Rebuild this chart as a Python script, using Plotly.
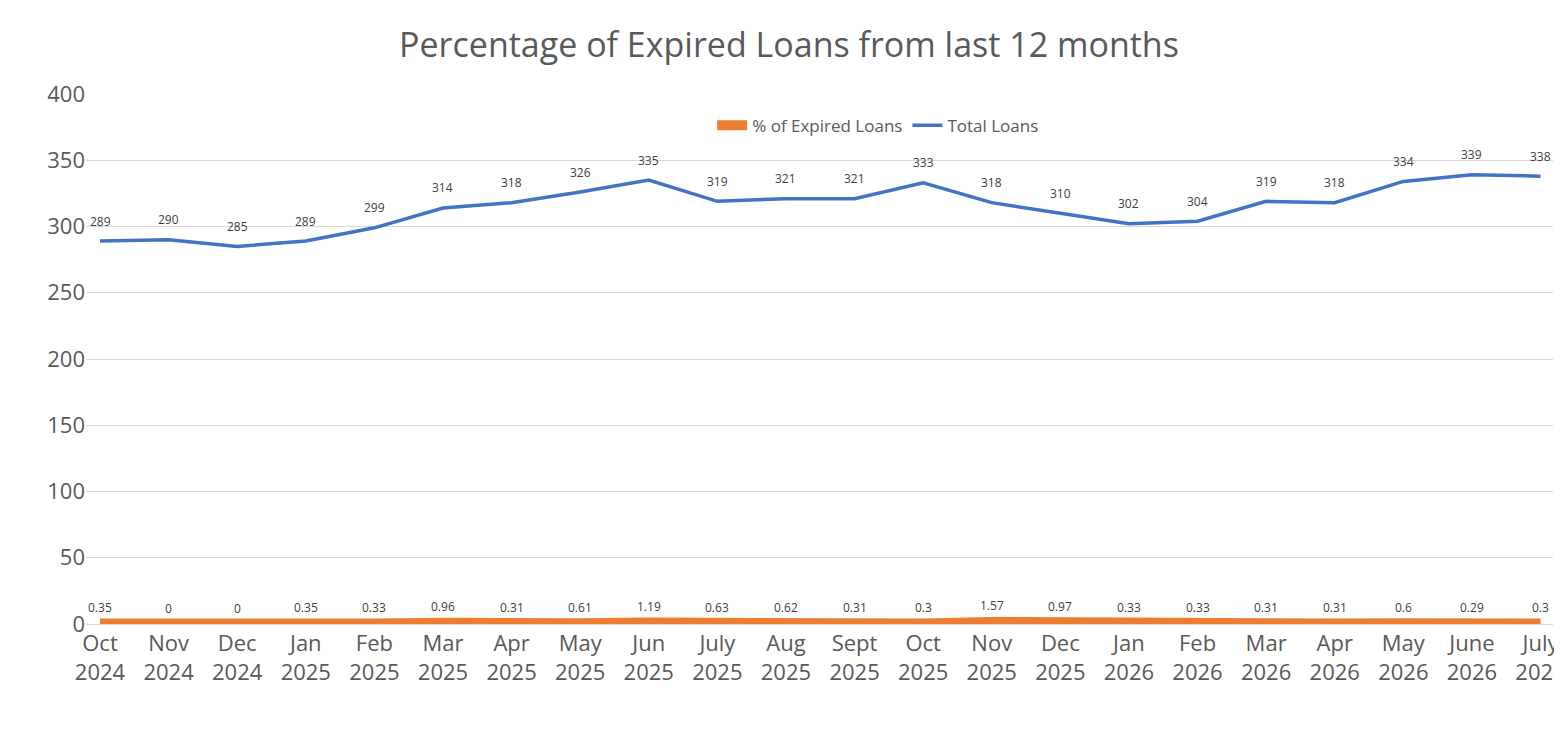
import plotly.graph_objects as go

months = ["Oct<br>2024", "Nov<br>2024", "Dec<br>2024", "Jan<br>2025", "Feb<br>2025", "Mar<br>2025",
          "Apr<br>2025", "May<br>2025", "Jun<br>2025", "July<br>2025", "Aug<br>2025", "Sept<br>2025",
          "Oct<br>2025", "Nov<br>2025", "Dec<br>2025", "Jan<br>2026", "Feb<br>2026", "Mar<br>2026",
          "Apr<br>2026", "May<br>2026", "June<br>2026", "July<br>2026"]
expired_pct = [0.35, 0, 0, 0.35, 0.33, 0.96, 0.31, 0.61, 1.19, 0.63, 0.62, 0.31,
               0.3, 1.57, 0.97, 0.33, 0.33, 0.31, 0.31, 0.6, 0.29, 0.3]
total_loans = [289, 290, 285, 289, 299, 314, 318, 326, 335, 319, 321, 321,
               333, 318, 310, 302, 304, 319, 318, 334, 339, 338]

fig = go.Figure()

fig.add_trace(go.Scatter(x=months, y=expired_pct, name="% of Expired Loans",
                         mode="lines", line=dict(color="#ED7D31", width=10)))
fig.add_trace(go.Scatter(x=months, y=total_loans, name="Total Loans",
                         mode="lines", line=dict(color="#4472C4", width=3.5)))

# data labels, lifted a bit above the points
labels = []
for xs, ys, shift in [(months, expired_pct, 16), (months, total_loans, 20)]:
    for x, y in zip(xs, ys):
        labels.append(dict(x=x, y=y, text=str(y), showarrow=False, yshift=shift,
                           font=dict(size=12, color="#404040")))

fig.update_layout(
    width=1562, height=749,
    paper_bgcolor="white", plot_bgcolor="white",
    font=dict(family="Open Sans, Calibri, sans-serif", color="#595959"),
    title=dict(text="Percentage of Expired Loans from last 12 months",
               x=0.5, y=0.95, xanchor="center", yanchor="middle",
               font=dict(size=34, color="#595959")),
    margin=dict(l=78, r=17, t=86, b=133, autoexpand=False),
    legend=dict(orientation="h", x=0.54, y=0.94, xanchor="center", yanchor="middle",
                font=dict(size=17, color="#595959")),
    xaxis=dict(showgrid=False, showline=True, linecolor="#D9D9D9",
               tickfont=dict(size=22, color="#595959"), ticks=""),
    yaxis=dict(range=[0, 400], dtick=50, showgrid=True, gridcolor="#D9D9D9",
               zeroline=False, tickfont=dict(size=22, color="#595959"), ticks=""),
    annotations=labels,
)

fig.write_html("out.html")
